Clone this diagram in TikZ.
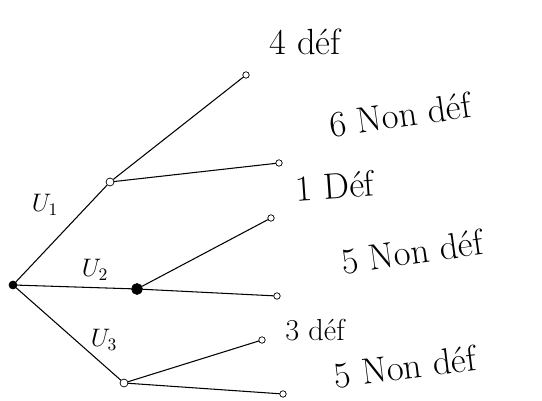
\documentclass[tikz,border=0pt]{standalone}
\usepackage{tikz}
\usetikzlibrary{positioning}
\begin{document}
\begin{tikzpicture}[
    x=0.02cm, y=-0.02cm,
    root/.style={circle, draw, fill=black, inner sep=1.6pt},
    branch/.style={circle, draw, fill=white, inner sep=1.6pt},
    leaf/.style={circle, draw, fill=white, inner sep=1.3pt},
    result/.style={font=\LARGE, inner sep=1pt},
    urn/.style={font=\Large},
    edge/.style={semithick, line cap=round}
]
    \useasboundingbox (0,0) rectangle (542,401);

    % Root and urns
    \node[root] (r) at (13,285) {};
    \node[branch] (u1) at (110,182) {};
    \node[root, inner sep=2.2pt] (u2) at (137,289) {};
    \node[branch] (u3) at (124,383) {};

    % Leaves
    \node[leaf] (l1) at (246,75) {};
    \node[leaf] (l2) at (279,163) {};
    \node[leaf] (l3) at (271,218) {};
    \node[leaf] (l4) at (277,296) {};
    \node[leaf] (l5) at (262,340) {};
    \node[leaf] (l6) at (283,394) {};

    % Results
    \node[result, font=\huge] (t1) at (305,42) {4 déf};
    \node[result, font=\huge, rotate=8] (t2) at (400,115) {6 Non déf};
    \node[result, font=\huge, rotate=4] (t3) at (335,186) {1 Déf};
    \node[result, font=\huge, rotate=8] (t4) at (412,252) {5 Non déf};
    \node[result] (t5) at (315,330) {3 déf};
    \node[result, font=\huge, rotate=7] (t6) at (405,367) {5 Non déf};

    % Urn labels
    \node[urn] (n1) at (45,205) {$U_1$};
    \node[urn] (n2) at (95,270) {$U_2$};
    \node[urn] (n3) at (104,340) {$U_3$};

    % Edges
    \draw[edge] (r) -- (u1);
    \draw[edge] (r) -- (u2);
    \draw[edge] (r) -- (u3);
    \draw[edge] (u1) -- (l1);
    \draw[edge] (u1) -- (l2);
    \draw[edge] (u2) -- (l3);
    \draw[edge] (u2) -- (l4);
    \draw[edge] (u3) -- (l5);
    \draw[edge] (u3) -- (l6);
\end{tikzpicture}
\end{document}
